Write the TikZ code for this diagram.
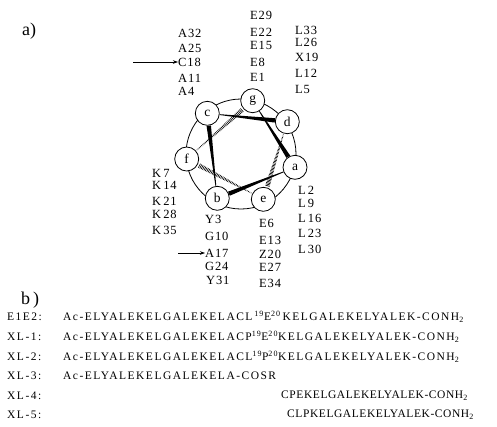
\documentclass[tikz,border=0pt]{standalone}
\usepackage{fontspec}
\setmainfont{Liberation Serif}
\newfontfamily\wheelfont[LetterSpace=7]{Liberation Serif}
\newfontfamily\seqfont[LetterSpace=13]{Liberation Serif}
\newfontfamily\shortseqfont[LetterSpace=5]{Liberation Serif}
\usetikzlibrary{calc,arrows.meta}

% solid wedge from residue #1 (thin) to residue #2 (thick)
\newcommand{\solidwedge}[2]{%
  \path ($(#1)!12.5pt!(#2)$) coordinate (wS) ($(#2)!12.5pt!(#1)$) coordinate (wT);
  \fill ($(wS)!0.4pt!90:(wT)$) -- ($(wS)!0.4pt!-90:(wT)$)
     -- ($(wT)!2.2pt!90:(wS)$) -- ($(wT)!2.2pt!-90:(wS)$) -- cycle;
}
% hashed wedge from residue #1 (thin) to residue #2 (wide)
\newcommand{\hashwedge}[2]{%
  \path ($(#1)!12.5pt!(#2)$) coordinate (wS) ($(#2)!12.5pt!(#1)$) coordinate (wT);
  \foreach \t in {0.02,0.045,...,0.98}{%
    \path ($(wS)!\t!(wT)$) coordinate (wP);
    \draw[line width=0.65pt] ($(wP)!{0.35pt+\t*2pt}!90:(wT)$) -- ($(wP)!{0.35pt+\t*2pt}!-90:(wT)$);
  }
}

\begin{document}
\begin{tikzpicture}[x=1pt,y=-1pt,
  lab/.style={font=\wheelfont\fontsize{12.5}{12.5}\selectfont, anchor=west, inner sep=0pt},
  res/.style={circle, draw, fill=white, minimum size=24pt, inner sep=0pt,
              line width=0.8pt, font=\fontsize{13.5}{13.5}\selectfont},
  panel/.style={font=\fontsize{18}{18}\selectfont, anchor=west, inner sep=0pt},
  seq/.style={font=\seqfont\fontsize{11.5}{11.5}\selectfont, anchor=west, inner sep=0pt},
  shortseq/.style={font=\shortseqfont\fontsize{11.5}{11.5}\selectfont, anchor=west, inner sep=0pt},
  pointer/.style={-{Stealth[length=5pt,width=3.5pt]}, line width=0.6pt}]
\useasboundingbox (0,0) rectangle (497,426);

% panel letters
\node[panel] (panelA) at (22,31) {a)};
\node[panel] (panelB) at (21,300) {b\,)};

% helical wheel
\coordinate (ctr) at (241,154);
\draw[line width=0.8pt] (ctr) circle[radius=55pt];

\coordinate (pg) at (252.7,100.7);
\coordinate (pc) at (207.3,113.3);
\coordinate (pd) at (287.3,121.7);
\coordinate (pf) at (186.7,159);
\coordinate (pa) at (295,167.3);
\coordinate (pb) at (217.3,198.3);
\coordinate (pe) at (263.3,199.3);

\solidwedge{pg}{pa}
\solidwedge{pa}{pb}
\solidwedge{pb}{pc}
\solidwedge{pc}{pd}
\hashwedge{pd}{pe}
\hashwedge{pe}{pf}
\hashwedge{pf}{pg}

\node[res] (g) at (pg) {g};
\node[res] (c) at (pc) {c};
\node[res] (d) at (pd) {d};
\node[res] (f) at (pf) {f};
\node[res] (a) at (pa) {a};
\node[res] (b) at (pb) {b};
\node[res] (e) at (pe) {e};

% residues at position c
\node[lab] (A32) at (178,33) {A32};
\node[lab] (A25) at (178,48.5) {A25};
\node[lab] (C18) at (178,62) {C18};
\node[lab] (A11) at (178,78) {A11};
\node[lab] (A4)  at (178,91) {A4};
\coordinate (arrC) at (133,62);
\draw[pointer] (arrC) -- (C18.west);

% residues at position g
\node[lab] (E29) at (250,15.5) {E29};
\node[lab] (E22) at (250,32) {E22};
\node[lab] (E15) at (250,45) {E15};
\node[lab] (E8)  at (250,62) {E8};
\node[lab] (E1)  at (250,77) {E1};

% residues at position d
\node[lab] (L33) at (295,30) {L33};
\node[lab] (L26) at (295,42) {L26};
\node[lab] (X19) at (295,57.5) {X19};
\node[lab] (L12) at (295,73.5) {L12};
\node[lab] (L5)  at (295,89) {L5};

% residues at position f
\node[lab] (K7)  at (152,173) {K\,7};
\node[lab] (K14) at (152,185) {K\,14};
\node[lab] (K21) at (152,201.5) {K\,21};
\node[lab] (K28) at (152,214) {K\,28};
\node[lab] (K35) at (152,230) {K\,35};

% residues at position b
\node[lab] (Y3)  at (205,219) {Y3};
\node[lab] (G10) at (205,236) {G10};
\node[lab] (A17) at (205,253) {A17};
\node[lab] (G24) at (205,266) {G24};
\node[lab] (Y31) at (206,280.5) {Y31};
\coordinate (arrA) at (178,253);
\draw[pointer] (arrA) -- (A17.west);

% residues at position e
\node[lab] (E6)  at (259,223) {E6};
\node[lab] (E13) at (259,240) {E13};
\node[lab] (Z20) at (259,254.5) {Z20};
\node[lab] (E27) at (259,267.5) {E27};
\node[lab] (E34) at (259,283) {E34};

% residues at position a
\node[lab] (L2)  at (298,190) {L\,2};
\node[lab] (L9)  at (298,203.5) {L\,9};
\node[lab] (L16) at (298,218) {L\,16};
\node[lab] (L23) at (298,233.5) {L\,23};
\node[lab] (L30) at (298,249) {L\,30};

% peptide sequences
\node[seq] (n0) at (7,317) {E1E2:};
\node[seq] (n1) at (7,337) {XL-1:};
\node[seq] (n2) at (7,356.5) {XL-2:};
\node[seq] (n3) at (7,376) {XL-3:};
\node[seq] (n4) at (7,395.5) {XL-4:};
\node[seq] (n5) at (7,415) {XL-5:};

\node[seq] (s0) at (63,317) {Ac-ELYALEKELGALEKELACL\,\textsuperscript{19}E\textsuperscript{20}\,KELGALEKELYALEK-CONH\textsubscript{2}};
\node[seq] (s1) at (63,337) {Ac-ELYALEKELGALEKELACP\textsuperscript{19}E\textsuperscript{20}KELGALEKELYALEK-CONH\textsubscript{2}};
\node[seq] (s2) at (63,356.5) {Ac-ELYALEKELGALEKELACL\textsuperscript{19}P\textsuperscript{20}KELGALEKELYALEK-CONH\textsubscript{2}};
\node[seq] (s3) at (63,376) {Ac-ELYALEKELGALEKELA-COSR};
\node[shortseq] (s4) at (281,395.5) {CPEKELGALEKELYALEK-CONH\textsubscript{2}};
\node[shortseq] (s5) at (287,415) {CLPKELGALEKELYALEK-CONH\textsubscript{2}};
\end{tikzpicture}
\end{document}
